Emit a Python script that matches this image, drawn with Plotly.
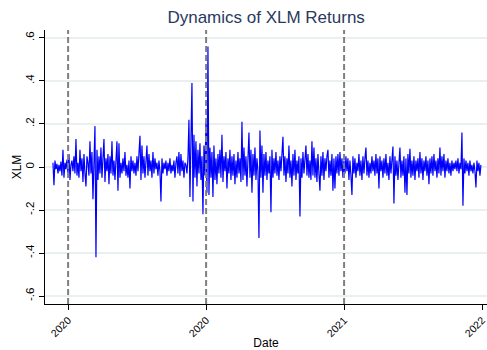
import pandas as pd
import plotly.graph_objects as go

# XLM daily returns (roughly one value per pixel column)
xlm_returns = [
    0.02, -0.085, 0.03, -0.01, 0.015, -0.03, 0.01, -0.02, 0.025, -0.04, 0.08, -0.05, 0.02, -0.01, 0.035, -0.03, 0.06, -0.06, 0.01, 0.03,
    -0.02, 0.05, -0.03, 0.13, -0.04, 0.02, -0.05, 0.08, -0.02, 0.04, -0.07, 0.06, -0.03, -0.09, 0.05, 0.02, -0.04, 0.12, -0.03, 0.07,
    -0.15, 0.04, 0.19, -0.42, 0.08, -0.06, 0.05, -0.03, 0.09, -0.05, 0.03, 0.13, -0.07, 0.04, -0.02, 0.06, -0.08, 0.05, -0.03, 0.12,
    -0.04, 0.03, -0.06, 0.07, 0.12, -0.11, 0.11, -0.05, 0.02, -0.03, 0.04, -0.02, 0.07, -0.04, 0.01, -0.05, 0.03, -0.10, 0.05, -0.02,
    0.03, -0.03, 0.02, -0.04, 0.05, -0.02, 0.04, 0.145, -0.06, 0.10, -0.03, 0.05, -0.05, 0.02, 0.10, -0.04, 0.06, -0.02, 0.03, -0.05,
    0.07, -0.03, 0.04, -0.01, 0.02, -0.04, 0.03, -0.02, -0.16, 0.04, -0.03, 0.02, -0.01, 0.03, -0.04, 0.02, -0.02, 0.04, -0.03, 0.01,
    -0.02, 0.03, -0.05, 0.02, 0.05, -0.03, 0.07, -0.04, 0.06, -0.02, 0.03, -0.05, 0.02, 0.01, -0.03, 0.04, 0.22, -0.14, 0.13, 0.39,
    -0.16, 0.15, -0.05, 0.12, -0.09, 0.08, -0.03, 0.11, -0.06, 0.05, -0.22, 0.10, -0.04, 0.21, -0.12, 0.56, -0.13, 0.09, -0.05, 0.07,
    -0.14, 0.10, -0.06, 0.04, -0.08, 0.06, -0.03, 0.08, -0.05, 0.15, -0.07, 0.05, -0.02, 0.07, -0.10, 0.04, -0.03, 0.08, -0.06, 0.05,
    -0.04, 0.06, -0.08, 0.03, -0.05, 0.07, -0.03, 0.04, -0.07, 0.21, -0.06, 0.09, -0.04, 0.05, -0.09, 0.04, 0.16, -0.05, 0.08, -0.12,
    0.06, -0.04, 0.09, -0.06, 0.04, -0.02, -0.33, 0.17, -0.05, 0.10, -0.12, 0.06, -0.04, 0.07, -0.06, 0.03, -0.03, 0.05, -0.21, 0.08,
    -0.05, 0.04, -0.03, 0.07, -0.04, 0.03, -0.06, 0.05, -0.02, 0.06, 0.14, -0.04, 0.05, -0.07, 0.04, -0.03, 0.10, -0.05, 0.03, -0.09,
    0.06, -0.04, 0.08, -0.06, 0.03, -0.03, 0.05, -0.23, 0.04, -0.05, 0.07, -0.03, 0.05, 0.10, -0.04, 0.06, -0.05, 0.03, -0.06, 0.12,
    -0.04, 0.09, -0.05, 0.04, -0.07, 0.06, -0.03, -0.11, 0.05, -0.04, 0.07, -0.06, 0.04, -0.02, 0.05, 0.08, -0.05, 0.03, -0.04, 0.06,
    -0.11, 0.04, -0.10, 0.05, -0.03, 0.06, -0.04, 0.07, -0.02, 0.04, -0.05, 0.03, -0.03, 0.05, -0.02, 0.04, -0.06, 0.03, -0.04, -0.13,
    0.05, -0.03, 0.04, -0.05, 0.02, -0.02, 0.06, -0.04, 0.03, -0.06, 0.05, -0.03, 0.04, 0.09, -0.04, 0.03, -0.05, 0.02, -0.03, 0.05,
    -0.02, 0.03, -0.04, 0.06, -0.03, 0.04, -0.10, 0.05, -0.02, 0.03, -0.05, 0.04, -0.03, 0.06, -0.04, 0.02, -0.06, 0.05, -0.03, 0.04,
    0.095, -0.17, 0.05, -0.04, 0.03, -0.06, 0.04, 0.09, -0.05, 0.03, -0.04, 0.05, -0.12, 0.04, -0.13, 0.06, -0.03, 0.085, -0.05, 0.03,
    -0.04, 0.05, -0.06, 0.03, -0.02, 0.04, -0.05, 0.07, -0.03, 0.04, -0.06, 0.03, -0.02, 0.05, -0.04, 0.03, -0.08, 0.04, -0.03, 0.05,
    -0.04, 0.06, -0.02, 0.03, -0.05, 0.04, -0.03, 0.09, -0.04, 0.05, -0.02, 0.06, -0.05, 0.03, -0.02, 0.04, -0.03, 0.02, -0.04, 0.03,
    -0.02, 0.02, -0.01, 0.03, -0.02, 0.04, -0.03, 0.02, -0.01, 0.16, -0.18, 0.04, -0.03, 0.03, -0.02, 0.02, -0.04, 0.03, -0.02, 0.01,
    -0.03, 0.02, -0.02, -0.095, 0.03, -0.02, 0.02, -0.04, 0.01,
]
start_date = "2019-11-22"
end_date = "2022-12-25"
dates = pd.date_range(start_date, end_date, periods=len(xlm_returns))

tick_dates = ["2020-01-01", "2020-12-30", "2021-12-29", "2022-12-28"]
tick_labels = ["2020", "2020", "2021", "2022"]
ref_line_dates = ["2020-01-01", "2020-12-30", "2021-12-29"]

y_ticks = [0.6, 0.4, 0.2, 0, -0.2, -0.4, -0.6]
y_tick_labels = [".6", ".4", ".2", "0", "-.2", "-.4", "-.6"]

fig = go.Figure()
fig.add_trace(go.Scatter(
    x=dates, y=xlm_returns, mode="lines",
    line=dict(color="#0000ff", width=1.2),
    showlegend=False, hoverinfo="skip",
))

for d in ref_line_dates:
    fig.add_shape(type="line", xref="x", yref="paper", x0=d, x1=d, y0=0, y1=1,
                  line=dict(color="#7f7f7f", width=2, dash="6px,3px"), layer="above")

font_family = "Liberation Sans, Arial, sans-serif"
fig.update_layout(
    width=487, height=350,
    margin=dict(l=45, r=0, t=30, b=46, autoexpand=False),
    paper_bgcolor="white", plot_bgcolor="white",
    font=dict(family=font_family, color="black", size=11),
    title=dict(text="Dynamics of XLM Returns", x=0.5465, xanchor="center",
               y=0.951, yanchor="middle",
               font=dict(family=font_family, size=17, color="#2a3960")),
    xaxis=dict(
        range=["2019-11-01", "2023-01-10"],
        tickmode="array", tickvals=tick_dates, ticktext=tick_labels,
        tickangle=-45, ticks="outside", ticklen=5, tickcolor="black",
        showline=True, linecolor="black", linewidth=1.2,
        showgrid=False, zeroline=False, automargin=False,
        ticklabeloverflow="allow",
        title=dict(text="Date", font=dict(size=12), standoff=6),
        tickfont=dict(size=10.5),
    ),
    yaxis=dict(
        range=[-0.637, 0.637],
        tickmode="array", tickvals=y_ticks, ticktext=y_tick_labels,
        tickangle=-90, ticks="outside", ticklen=5, tickcolor="black",
        showline=True, linecolor="black", linewidth=1.2,
        showgrid=True, gridcolor="#eaeff2", gridwidth=1.5, zeroline=False,
        automargin=False,
        title=dict(text="XLM", font=dict(size=12), standoff=0),
        tickfont=dict(size=11.5),
    ),
)

fig.write_html("out.html")
